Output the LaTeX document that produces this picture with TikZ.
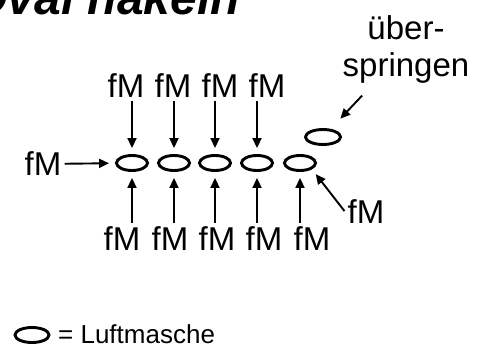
\documentclass[tikz,border=0pt]{standalone}
\usepackage{fontspec}
\setmainfont{Liberation Sans}
\usetikzlibrary{shapes.geometric,arrows.meta}

\begin{document}
\begin{tikzpicture}[x=1pt,y=-1pt,
    lm/.style={ellipse,draw,line width=2.9pt,minimum width=31pt,minimum height=15pt,inner sep=0pt},
    pfeil/.style={-{Triangle[length=10pt,width=9pt]},line width=1.9pt,shorten >=6pt},
    txt/.style={font=\fontsize{33}{37}\selectfont,inner sep=3pt}]
  \clip (0,0) rectangle (489,347);
  \useasboundingbox (0,0) rectangle (489,347);
  \node[anchor=base east,inner sep=0pt,font=\fontsize{48}{48}\selectfont\bfseries\itshape] (titel) at (240,15) {Oval häkeln};

  \node[lm] (O1) at (132,163) {};
  \node[lm] (O2) at (174,163) {};
  \node[lm] (O3) at (215,163) {};
  \node[lm] (O4) at (257,163) {};
  \node[lm] (O5) at (300,163) {};
  \node[lm,minimum width=35pt] (U) at (323,137) {};

  \node[txt,anchor=base] (T1) at (126,98) {fM};
  \node[txt,anchor=base] (T2) at (173,98) {fM};
  \node[txt,anchor=base] (T3) at (220,98) {fM};
  \node[txt,anchor=base] (T4) at (267,98) {fM};
  \draw[pfeil] (O1 |- T1.south) -- (O1.north);
  \draw[pfeil] (O2 |- T2.south) -- (O2.north);
  \draw[pfeil] (O3 |- T3.south) -- (O3.north);
  \draw[pfeil] (O4 |- T4.south) -- (O4.north);

  \node[txt,anchor=base] (B1) at (122,250) {fM};
  \node[txt,anchor=base] (B2) at (170,250) {fM};
  \node[txt,anchor=base] (B3) at (217,250) {fM};
  \node[txt,anchor=base] (B4) at (264,250) {fM};
  \node[txt,anchor=base] (B5) at (312,250) {fM};
  \draw[pfeil] (O1 |- B1.north) -- (O1.south);
  \draw[pfeil] (O2 |- B2.north) -- (O2.south);
  \draw[pfeil] (O3 |- B3.north) -- (O3.south);
  \draw[pfeil] (O4 |- B4.north) -- (O4.south);
  \draw[pfeil] (O5 |- B5.north) -- (O5.south);

  \node[txt] (L) at (43,164) {fM};
  \draw[pfeil] (L) -- (O1);
  \node[txt,anchor=base] (R) at (366,223) {fM};
  \draw[pfeil] (R.west) -- (O5.south east);

  \node[txt,anchor=north,align=center] (UE) at (406,12) {über-\\springen};
  \draw[pfeil,shorten <=13pt,shorten >=14pt] (UE) -- (U);

  % Legende
  \node[lm,minimum width=34pt] (LL) at (32,335) {};
  \node[anchor=base west,inner sep=0pt,font=\fontsize{26}{26}\selectfont] (LT) at (58,343) {= Luftmasche};
\end{tikzpicture}
\end{document}
